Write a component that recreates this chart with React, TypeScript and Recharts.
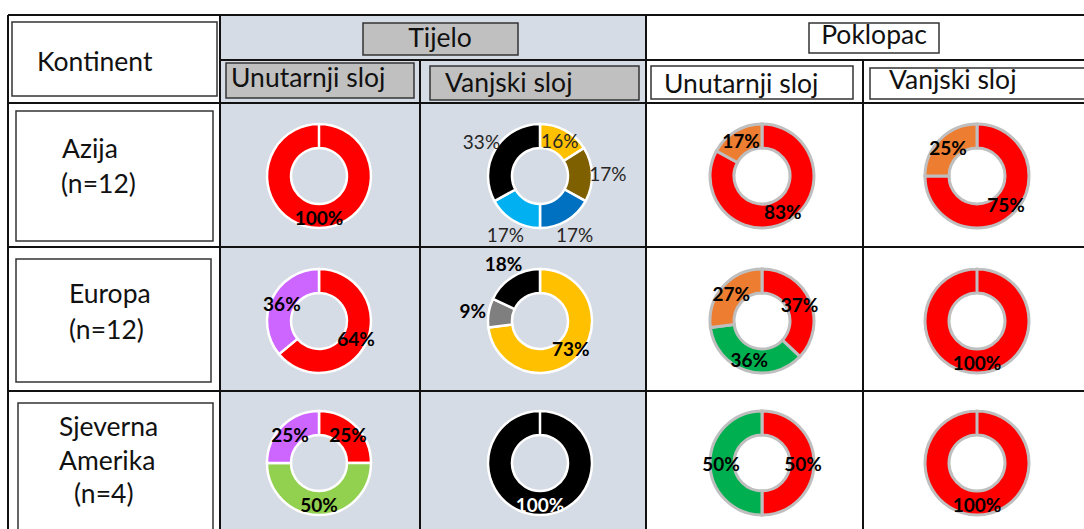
import React from "react";
import { PieChart, Pie, Cell } from "recharts";

// table headings
const continents = ["Azija", "Europa", "Sjeverna Amerika"];
const sampleSizes = [12, 12, 4];
const parts = ["Tijelo", "Poklopac"];
const layers = ["Unutarnji sloj", "Vanjski sloj"];

// share of colours (%) per continent / part / layer
const azijaTijeloUnutarnji = [{ name: "crvena", value: 100 }];
const azijaTijeloVanjski = [
  { name: "žuta", value: 16 },
  { name: "smeđa", value: 17 },
  { name: "plava", value: 17 },
  { name: "svijetloplava", value: 17 },
  { name: "crna", value: 33 },
];
const azijaPoklopacUnutarnji = [
  { name: "crvena", value: 83 },
  { name: "narančasta", value: 17 },
];
const azijaPoklopacVanjski = [
  { name: "crvena", value: 75 },
  { name: "narančasta", value: 25 },
];

const europaTijeloUnutarnji = [
  { name: "crvena", value: 64 },
  { name: "ljubičasta", value: 36 },
];
const europaTijeloVanjski = [
  { name: "žuta", value: 73 },
  { name: "siva", value: 9 },
  { name: "crna", value: 18 },
];
const europaPoklopacUnutarnji = [
  { name: "crvena", value: 37 },
  { name: "zelena", value: 36 },
  { name: "narančasta", value: 27 },
];
const europaPoklopacVanjski = [{ name: "crvena", value: 100 }];

const amerikaTijeloUnutarnji = [
  { name: "crvena", value: 25 },
  { name: "svijetlozelena", value: 50 },
  { name: "ljubičasta", value: 25 },
];
const amerikaTijeloVanjski = [{ name: "crna", value: 100 }];
const amerikaPoklopacUnutarnji = [
  { name: "crvena", value: 50 },
  { name: "zelena", value: 50 },
];
const amerikaPoklopacVanjski = [{ name: "crvena", value: 100 }];

const grid = [
  [azijaTijeloUnutarnji, azijaTijeloVanjski, azijaPoklopacUnutarnji, azijaPoklopacVanjski],
  [europaTijeloUnutarnji, europaTijeloVanjski, europaPoklopacUnutarnji, europaPoklopacVanjski],
  [amerikaTijeloUnutarnji, amerikaTijeloVanjski, amerikaPoklopacUnutarnji, amerikaPoklopacVanjski],
];

const colors: Record<string, string> = {
  crvena: "#ff0000",
  "narančasta": "#ed7d31",
  zelena: "#00b050",
  svijetlozelena: "#92d050",
  "ljubičasta": "#cc66ff",
  "žuta": "#ffc000",
  "smeđa": "#7f6000",
  plava: "#0070c0",
  svijetloplava: "#00b0f0",
  crna: "#000000",
  siva: "#7f7f7f",
};

// layout
const W = 1084;
const H = 529;
const FONT = "Lato, 'Open Sans', sans-serif";
const colX = [319, 540, 762, 977];
const rowY = [176, 321, 463];
const tijeloBg = "#d6dce5";
const boxGray = "#c0c0c0";
const outsideLabels: Record<string, number[]> = { "0-1": [1, 2, 3, 4], "1-1": [1, 2] };
const labelLook: Record<string, { fill: string; weight: number }> = {
  "0-1": { fill: "#262626", weight: 400 },
  "2-1": { fill: "#ffffff", weight: 700 },
};

const RAD = Math.PI / 180;

function makeLabel(key: string) {
  return (props: any) => {
    const { cx, cy, midAngle, innerRadius, outerRadius, value, index } = props;
    const outside = (outsideLabels[key] || []).includes(index);
    const r = outside ? outerRadius + 16 : (innerRadius + outerRadius) / 2 + 1;
    const x = cx + r * Math.cos(-midAngle * RAD);
    const y = cy + r * Math.sin(-midAngle * RAD);
    const look = labelLook[key] || { fill: "#000000", weight: 700 };
    return (
      <text
        key={`l-${key}-${index}`}
        x={x}
        y={y}
        textAnchor="middle"
        dominantBaseline="central"
        fill={look.fill}
        fontWeight={look.weight}
        fontSize={19}
        fontFamily={FONT}
      >
        {value}%
      </text>
    );
  };
}

function Box({ x, y, w, h, fill }: { x: number; y: number; w: number; h: number; fill: string }) {
  return <rect x={x} y={y} width={w} height={h} fill={fill} stroke="#333" strokeWidth={1.5} />;
}

function T({ x, y, children, anchor = "start" }: any) {
  return (
    <text x={x} y={y} fontSize={26.5} fontFamily={FONT} fill="#111" textAnchor={anchor}>
      {children}
    </text>
  );
}

function Table() {
  const line = { stroke: "#111", strokeWidth: 2 };
  const rowLabelBoxes = [
    { x: 16, y: 111, w: 197, h: 130 },
    { x: 16, y: 259, w: 195, h: 123 },
    { x: 18, y: 403, w: 195, h: 140 },
  ];
  return (
    <svg width={W} height={H} style={{ position: "absolute", left: 0, top: 0 }}>
      <rect x={0} y={0} width={W} height={H} fill="#fff" />
      <rect x={220} y={15} width={426} height={H} fill={tijeloBg} />

      {/* grid */}
      <line x1={8} y1={15} x2={W} y2={15} {...line} />
      <line x1={220} y1={60} x2={W} y2={60} {...line} />
      {[103, 247, 391].map((y) => (
        <line key={y} x1={8} y1={y} x2={W} y2={y} {...line} />
      ))}
      {[8, 220, 646].map((x) => (
        <line key={x} x1={x} y1={15} x2={x} y2={H} {...line} />
      ))}
      {[420, 863].map((x) => (
        <line key={x} x1={x} y1={60} x2={x} y2={H} {...line} />
      ))}

      {/* header boxes */}
      <Box x={12} y={22} w={205} h={74} fill="#fff" />
      <T x={37} y={71}>Kontinent</T>

      <Box x={363} y={23} w={155} h={32} fill={boxGray} />
      <T x={440} y={47} anchor="middle">{parts[0]}</T>
      <Box x={226} y={63} w={188} h={35} fill={boxGray} />
      <T x={231} y={87}>{layers[0]}</T>
      <Box x={430} y={66} w={209} h={34} fill={boxGray} />
      <T x={445} y={92}>{layers[1]}</T>

      <Box x={809} y={23} w={130} h={30} fill="#fff" />
      <T x={874} y={44} anchor="middle">{parts[1]}</T>
      <Box x={651} y={66} w={202} h={33} fill="#fff" />
      <T x={664} y={93}>{layers[0]}</T>
      <Box x={870} y={68} w={240} h={31} fill="#fff" />
      <T x={889} y={89}>{layers[1]}</T>

      {/* row labels */}
      {rowLabelBoxes.map((b, i) => (
        <Box key={i} x={b.x} y={b.y} w={b.w} h={b.h} fill="#fff" />
      ))}
      <T x={62} y={158}>{continents[0]}</T>
      <T x={61} y={193}>(n={sampleSizes[0]})</T>
      <T x={69} y={303}>{continents[1]}</T>
      <T x={69} y={339}>(n={sampleSizes[1]})</T>
      <T x={59} y={436}>{continents[2].split(" ")[0]}</T>
      <T x={59} y={470}>{continents[2].split(" ")[1]}</T>
      <T x={74} y={503}>(n={sampleSizes[2]})</T>
    </svg>
  );
}

export default function App() {
  return (
    <div style={{ position: "absolute", left: 0, top: 0, width: W, height: H, overflow: "hidden", background: "#fff" }}>
      <Table />
      <div style={{ position: "absolute", left: 0, top: 0 }}>
        <PieChart width={W} height={H} margin={{ top: 0, right: 0, bottom: 0, left: 0 }}>
          {grid.map((row, ri) =>
            row.map((data, ci) => {
              const key = `${ri}-${ci}`;
              const poklopac = ci >= 2;
              return (
                <Pie
                  key={key}
                  data={data}
                  dataKey="value"
                  nameKey="name"
                  cx={colX[ci]}
                  cy={rowY[ri]}
                  innerRadius={28}
                  outerRadius={52}
                  startAngle={90}
                  endAngle={-270}
                  stroke={poklopac ? "#bfbfbf" : "#ffffff"}
                  strokeWidth={poklopac ? 3 : 2.5}
                  labelLine={false}
                  label={makeLabel(key)}
                  isAnimationActive={false}
                >
                  {data.map((d, i) => (
                    <Cell key={i} fill={colors[d.name]} />
                  ))}
                </Pie>
              );
            })
          )}
        </PieChart>
      </div>
    </div>
  );
}
